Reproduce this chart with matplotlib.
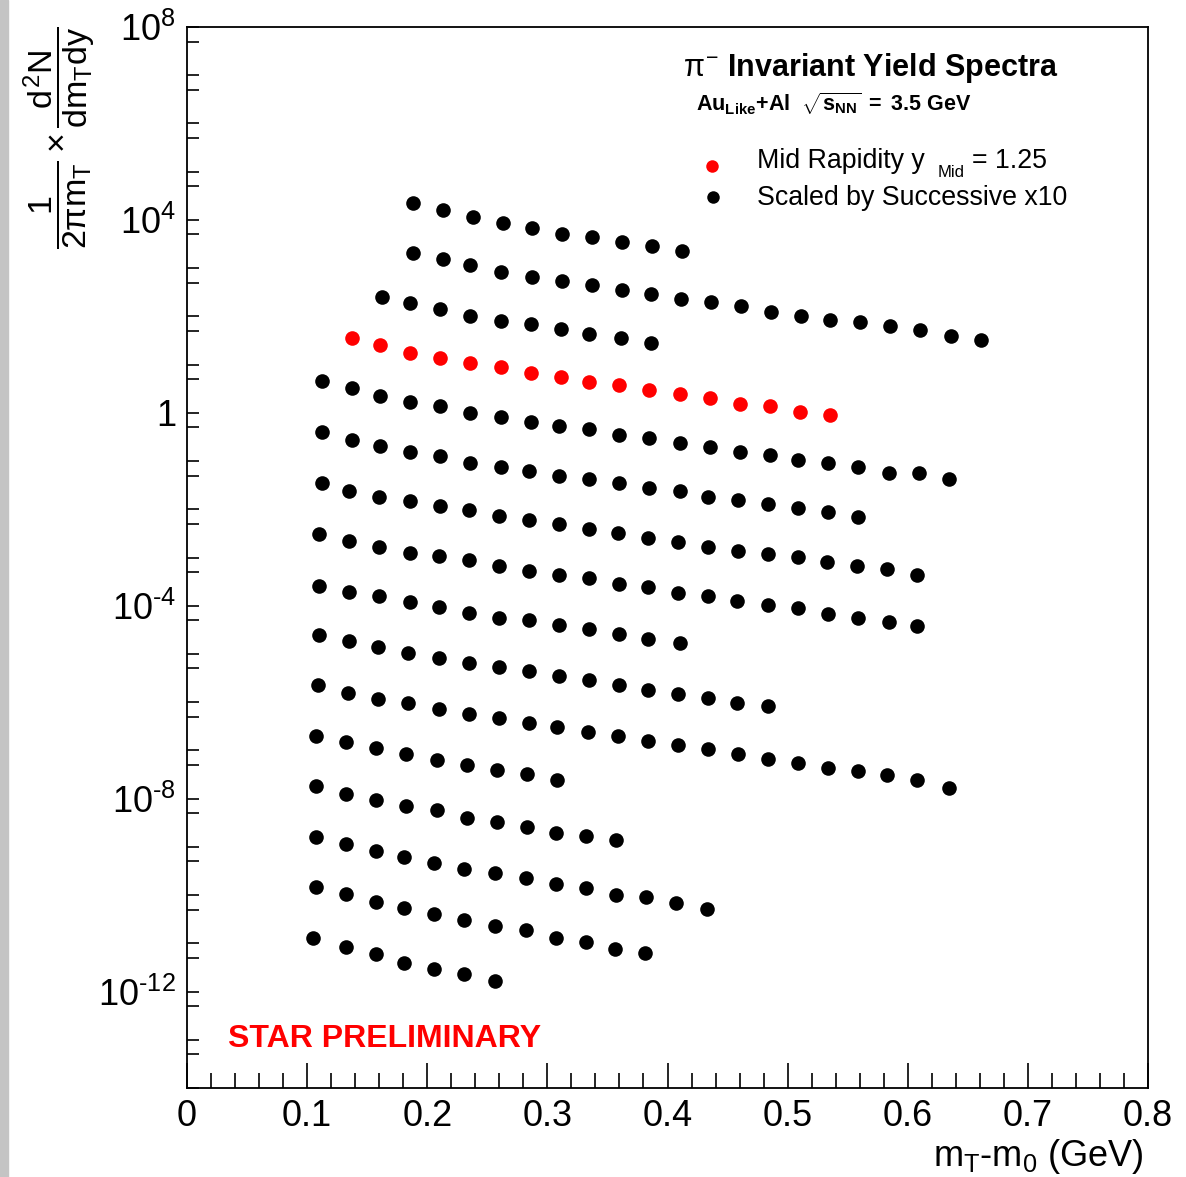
import numpy as np
import matplotlib
matplotlib.use("Agg")
import matplotlib.pyplot as plt
from matplotlib.ticker import FixedLocator, MultipleLocator, NullFormatter
from matplotlib.patches import Rectangle

plt.rcParams['font.family'] = 'Liberation Sans'
plt.rcParams['mathtext.fontset'] = 'custom'
plt.rcParams['mathtext.rm'] = 'Liberation Sans'
plt.rcParams['mathtext.it'] = 'Liberation Sans'
plt.rcParams['mathtext.bf'] = 'Liberation Sans:bold'

# Spectra, each row already scaled by successive x10
x_s1 = [0.188, 0.213, 0.238, 0.263, 0.287, 0.312, 0.337, 0.362, 0.387, 0.412]
y_s1 = [2.2e4, 1.6e4, 1.13e4, 8.5e3, 6.7e3, 5.0e3, 4.35e3, 3.43e3, 2.83e3, 2.23e3]

x_s2 = [0.188, 0.213, 0.236, 0.261, 0.287, 0.312, 0.337, 0.362, 0.386, 0.411,
        0.436, 0.461, 0.486, 0.511, 0.535, 0.560, 0.585, 0.610, 0.636, 0.661]
y_s2 = [2.03e3, 1.52e3, 1.14e3, 8.2e2, 6.7e2, 5.3e2, 4.4e2, 3.6e2, 2.85e2, 2.24e2,
        1.94e2, 1.61e2, 1.26e2, 1.04e2, 86, 75, 62, 51, 40, 33]

x_s3 = [0.162, 0.186, 0.211, 0.236, 0.261, 0.286, 0.311, 0.335, 0.361, 0.386]
y_s3 = [247, 185, 139, 104, 82, 68, 53.5, 44, 35, 28.7]

# mid rapidity (unscaled)
x_mid = [0.137, 0.161, 0.186, 0.211, 0.236, 0.261, 0.286, 0.311, 0.335, 0.360,
         0.385, 0.410, 0.435, 0.460, 0.485, 0.510, 0.535]
y_mid = [34.8, 24.9, 17.0, 14.0, 11.0, 9.1, 6.8, 5.4, 4.45, 3.85,
         3.0, 2.5, 2.07, 1.55, 1.41, 1.06, 0.92]

x_s5 = [0.112, 0.137, 0.161, 0.186, 0.211, 0.236, 0.261, 0.286, 0.310, 0.335, 0.360,
        0.385, 0.410, 0.435, 0.460, 0.485, 0.509, 0.534, 0.559, 0.584, 0.609, 0.634]
y_s5 = [4.67, 3.34, 2.28, 1.71, 1.41, 1.01, 0.83, 0.66, 0.54, 0.47, 0.353,
        0.306, 0.241, 0.199, 0.156, 0.136, 0.107, 0.0925, 0.0764, 0.0573, 0.0565, 0.043]

x_s6 = [0.112, 0.137, 0.161, 0.186, 0.211, 0.236, 0.261, 0.285, 0.310, 0.335,
        0.360, 0.385, 0.410, 0.434, 0.459, 0.484, 0.509, 0.534, 0.559]
y_s6 = [0.407, 0.278, 0.208, 0.156, 0.129, 0.0925, 0.0764, 0.0631, 0.0497, 0.043,
        0.0355, 0.028, 0.0242, 0.0182, 0.0158, 0.013, 0.0108, 0.00888, 0.00699]

x_s7 = [0.112, 0.135, 0.160, 0.186, 0.211, 0.235, 0.260, 0.285, 0.310, 0.335, 0.359,
        0.384, 0.409, 0.434, 0.459, 0.484, 0.509, 0.533, 0.558, 0.583, 0.608]
y_s7 = [0.0355, 0.0242, 0.0182, 0.015, 0.0118, 0.00977, 0.00733, 0.00606, 0.005, 0.00394,
        0.00325, 0.00256, 0.00211, 0.00167, 0.00138, 0.00119, 0.00103, 8.1e-4, 6.7e-4,
        5.8e-4, 4.4e-4]

x_s8 = [0.110, 0.135, 0.160, 0.186, 0.210, 0.235, 0.260, 0.285, 0.310, 0.335, 0.360,
        0.384, 0.409, 0.434, 0.458, 0.484, 0.509, 0.534, 0.559, 0.584, 0.608]
y_s8 = [3.1e-3, 2.22e-3, 1.67e-3, 1.25e-3, 1.08e-3, 8.9e-4, 6.7e-4, 5.3e-4, 4.4e-4,
        3.8e-4, 2.84e-4, 2.46e-4, 1.85e-4, 1.6e-4, 1.26e-4, 1.04e-4, 9.0e-5, 6.8e-5,
        5.6e-5, 4.6e-5, 3.8e-5]

x_s9 = [0.110, 0.135, 0.160, 0.186, 0.210, 0.235, 0.260, 0.285, 0.310, 0.335,
        0.360, 0.384, 0.410]
y_s9 = [2.58e-4, 1.94e-4, 1.6e-4, 1.2e-4, 9.5e-5, 7.1e-5, 5.6e-5, 5.1e-5, 4.0e-5,
        3.3e-5, 2.6e-5, 2.05e-5, 1.69e-5]

x_s10 = [0.110, 0.135, 0.159, 0.184, 0.210, 0.235, 0.260, 0.285, 0.310, 0.335,
         0.360, 0.384, 0.409, 0.434, 0.458, 0.484]
y_s10 = [2.48e-5, 1.86e-5, 1.4e-5, 1.05e-5, 8.3e-6, 6.5e-6, 5.4e-6, 4.4e-6, 3.5e-6,
         2.9e-6, 2.27e-6, 1.78e-6, 1.47e-6, 1.22e-6, 9.6e-7, 8.3e-7]

x_s11 = [0.109, 0.134, 0.159, 0.184, 0.210, 0.235, 0.260, 0.285, 0.308, 0.334, 0.359,
         0.384, 0.409, 0.434, 0.459, 0.484, 0.509, 0.534, 0.559, 0.583, 0.608, 0.634]
y_s11 = [2.27e-6, 1.55e-6, 1.16e-6, 9.6e-7, 7.2e-7, 5.7e-7, 4.7e-7, 3.7e-7, 3.0e-7,
         2.4e-7, 1.98e-7, 1.56e-7, 1.29e-7, 1.06e-7, 8.4e-8, 6.6e-8, 5.4e-8, 4.3e-8,
         3.7e-8, 3.06e-8, 2.41e-8, 1.65e-8]

x_s12 = [0.107, 0.132, 0.157, 0.182, 0.208, 0.233, 0.258, 0.283, 0.308]
y_s12 = [1.98e-7, 1.48e-7, 1.11e-7, 8.4e-8, 6.3e-8, 4.9e-8, 3.9e-8, 3.2e-8, 2.41e-8]

x_s13 = [0.107, 0.132, 0.157, 0.182, 0.208, 0.233, 0.258, 0.283, 0.307, 0.332, 0.357]
y_s13 = [1.81e-8, 1.23e-8, 9.3e-9, 7.0e-9, 5.75e-9, 3.9e-9, 3.24e-9, 2.55e-9,
         1.91e-9, 1.66e-9, 1.37e-9]

x_s14 = [0.107, 0.132, 0.157, 0.181, 0.206, 0.231, 0.256, 0.282, 0.307, 0.332,
         0.357, 0.382, 0.407, 0.433]
y_s14 = [1.58e-9, 1.13e-9, 8.1e-10, 6.1e-10, 4.6e-10, 3.4e-10, 2.83e-10, 2.22e-10,
         1.67e-10, 1.38e-10, 9.9e-11, 9.0e-11, 6.7e-11, 5.05e-11]

x_s15 = [0.107, 0.132, 0.157, 0.181, 0.206, 0.231, 0.256, 0.282, 0.307, 0.332, 0.356, 0.381]
y_s15 = [1.45e-10, 1.04e-10, 7.1e-11, 5.3e-11, 4.0e-11, 3.0e-11, 2.24e-11, 1.85e-11,
         1.32e-11, 1.09e-11, 7.8e-12, 6.2e-12]

x_s16 = [0.105, 0.132, 0.157, 0.181, 0.206, 0.231, 0.256]
y_s16 = [1.26e-11, 8.2e-12, 5.9e-12, 4.0e-12, 3.0e-12, 2.26e-12, 1.69e-12]

scaled_rows = [(x_s1, y_s1), (x_s2, y_s2), (x_s3, y_s3), (x_s5, y_s5), (x_s6, y_s6),
               (x_s7, y_s7), (x_s8, y_s8), (x_s9, y_s9), (x_s10, y_s10), (x_s11, y_s11),
               (x_s12, y_s12), (x_s13, y_s13), (x_s14, y_s14), (x_s15, y_s15),
               (x_s16, y_s16)]

y_major = [1e8, 1e4, 1, 1e-4, 1e-8, 1e-12]
y_major_labels = [r'$10^{8}$', r'$10^{4}$', '1', r'$10^{\text{-}4}$',
                  r'$10^{\text{-}8}$', r'$10^{\text{-}12}$']

W, H = 1186, 1177
fig = plt.figure(figsize=(W / 100, H / 100), dpi=100)
fig.patches.append(Rectangle((0, 0), 8 / W, 1, transform=fig.transFigure,
                             color='#c4c4c4', zorder=0))

ax = fig.add_axes([187 / W, 89 / H, 961 / W, 1061 / H])
ax.set_yscale('log')
ax.set_xlim(0, 0.8)
ax.set_ylim(1e-14, 1e8)

for xs, ys in scaled_rows:
    ax.plot(xs, ys, 'o', color='black', ms=10.5, mew=0)
ax.plot(x_mid, y_mid, 'o', color='red', ms=10.5, mew=0)

# ticks, ROOT style
ax.yaxis.set_major_locator(FixedLocator(y_major))
ax.set_yticklabels(y_major_labels)
minors = []
for n in range(-14, 8):
    if 10.0 ** n not in y_major:
        minors.append(10.0 ** n)
    minors.append(5 * 10.0 ** n)
ax.yaxis.set_minor_locator(FixedLocator(minors))
ax.yaxis.set_minor_formatter(NullFormatter())
ax.xaxis.set_minor_locator(MultipleLocator(0.02))
ax.set_xticks([0, 0.1, 0.2, 0.3, 0.4, 0.5, 0.6, 0.7, 0.8])
ax.set_xticklabels(['0', '0.1', '0.2', '0.3', '0.4', '0.5', '0.6', '0.7', '0.8'])

ax.tick_params(axis='x', which='major', direction='in', length=18, width=1.2,
               labelsize=26, pad=8, top=False)
ax.tick_params(axis='x', which='minor', direction='in', length=10.5, width=1.2, top=False)
ax.tick_params(axis='y', which='both', direction='in', length=8.5, width=1.2,
               labelsize=26, pad=8, right=False)
for s in ax.spines.values():
    s.set_linewidth(1.3)

ax.set_xlabel(r'm$_{T}$-m$_{0}$ (GeV)', fontsize=26, ha='right', x=0.995, labelpad=2)
fig.text(60 / W, 1 - 138 / H,
         r'$\dfrac{1}{2\pi m_{T}}\times\dfrac{d^{2}N}{dm_{T}dy}$',
         rotation=90, ha='center', va='center', fontsize=24.5)

# header and legend
ax.text(0.516, 0.961, r'$\pi^{-}$ Invariant Yield Spectra', transform=ax.transAxes,
        fontsize=22, fontweight='bold', ha='left', va='center')
ax.text(0.530, 0.928,
        r'$\mathbf{Au}_{\mathbf{Like}}\mathbf{+Al}\ \ \sqrt{\mathbf{s}_{\mathbf{NN}}}\mathbf{\ =\ 3.5\ GeV}$',
        transform=ax.transAxes, fontsize=15.5, ha='left', va='center')
ax.plot([0.546], [0.869], 'o', color='red', ms=9, mew=0, transform=ax.transAxes)
ax.plot([0.547], [0.840], 'o', color='black', ms=9, mew=0, transform=ax.transAxes)
ax.text(0.593, 0.874, 'Mid Rapidity y', transform=ax.transAxes,
        fontsize=19.3, ha='left', va='center')
ax.text(0.781, 0.8625, 'Mid', transform=ax.transAxes,
        fontsize=12, ha='left', va='center')
ax.text(0.817, 0.874, '= 1.25', transform=ax.transAxes,
        fontsize=19.3, ha='left', va='center')
ax.text(0.593, 0.839, 'Scaled by Successive x10', transform=ax.transAxes,
        fontsize=19.3, ha='left', va='center')

ax.text(0.043, 0.046, 'STAR PRELIMINARY', transform=ax.transAxes, color='red',
        fontsize=23, fontweight='bold', ha='left', va='center')

fig.savefig('out.png', dpi=100)
